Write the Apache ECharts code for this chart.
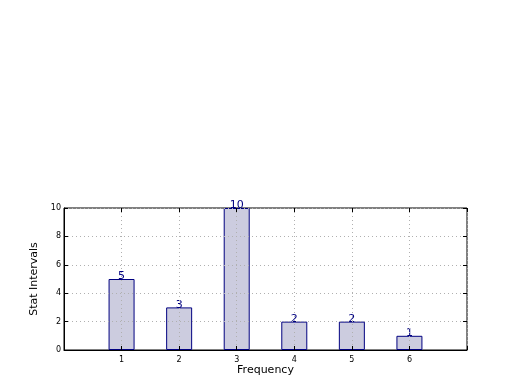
<!DOCTYPE html>
<html><head><meta charset="utf-8">
<script src="https://cdn.jsdelivr.net/npm/echarts@6/dist/echarts.min.js"></script>
<style>html,body{margin:0;padding:0;background:#fff}#c{width:520px;height:390px}</style>
</head><body><div id="c"></div>
<script>
const categories = [1, 2, 3, 4, 5, 6];
const values = [5, 3, 10, 2, 2, 1];
const yTicks = [0, 2, 4, 6, 8, 10];

const chart = echarts.init(document.getElementById('c'), null, {renderer: 'canvas'});
const font = 'DejaVu Sans';
const tick = () => ({show: true, inside: true, length: 4, lineStyle: {color: '#000', width: 1}});
chart.setOption({
  animation: false,
  backgroundColor: '#fff',
  grid: {left: 64, right: 53, top: 208, bottom: 40, show: true, borderColor: '#000', borderWidth: 1, backgroundColor: 'transparent'},
  xAxis: [{
    type: 'value', position: 'bottom', min: 0, max: 7, interval: 1, z: 5,
    name: 'Frequency', nameLocation: 'middle', nameGap: 15,
    nameTextStyle: {fontFamily: font, fontSize: 11, color: '#000'},
    axisLine: {show: true, onZero: false, lineStyle: {color: '#000', width: 1}},
    axisTick: tick(),
    axisLabel: {fontFamily: font, fontSize: 8, color: '#000', margin: 6,
      formatter: v => categories.includes(v) ? String(v) : ''},
    splitLine: {show: true, lineStyle: {color: '#b0b0b0', type: [1, 3], width: 1}}
  }, {
    type: 'value', position: 'top', min: 0, max: 7, interval: 1, z: 5,
    axisLine: {show: false, onZero: false}, axisTick: tick(), axisLabel: {show: false}, splitLine: {show: false}
  }],
  yAxis: [{
    type: 'value', position: 'left', min: 0, max: 10, interval: 2, z: 5,
    name: 'Stat Intervals', nameLocation: 'middle', nameGap: 14, nameRotate: 90,
    nameTextStyle: {fontFamily: font, fontSize: 11, color: '#000'},
    axisLine: {show: true, onZero: false, lineStyle: {color: '#000', width: 1}},
    axisTick: tick(),
    axisLabel: {fontFamily: font, fontSize: 8, color: '#000', margin: 3,
      formatter: v => yTicks.includes(v) ? String(v) : ''},
    splitLine: {show: true, lineStyle: {color: '#b0b0b0', type: [1, 3], width: 1}}
  }, {
    type: 'value', position: 'right', min: 0, max: 10, interval: 2, z: 5,
    axisLine: {show: false, onZero: false}, axisTick: tick(), axisLabel: {show: false}, splitLine: {show: false}
  }],
  series: [{
    type: 'bar',
    data: categories.map((c, i) => [c, values[i]]),
    barWidth: 26,
    itemStyle: {color: '#ccccdf', borderColor: '#000080', borderWidth: 1},
    label: {show: true, position: 'top', distance: -3, fontFamily: font, fontSize: 11, color: '#000080'}
  }]
});
</script></body></html>
